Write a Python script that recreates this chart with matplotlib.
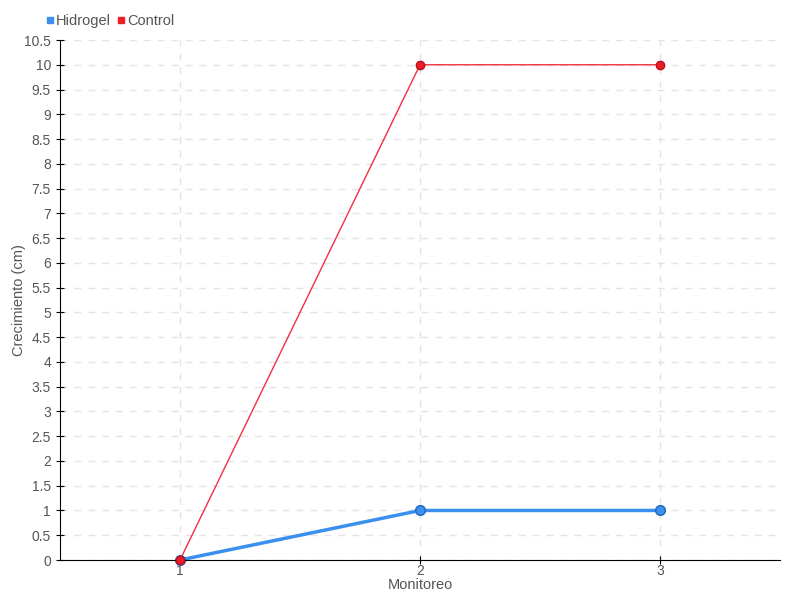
import matplotlib
matplotlib.use("Agg")
import matplotlib.pyplot as plt
from matplotlib.lines import Line2D
import numpy as np

plt.rcParams['font.family'] = ['Liberation Sans', 'DejaVu Sans']

monitoreo = [1, 2, 3]
hidrogel = [0, 1, 1]
control = [0, 10, 10]
y_ticks = np.arange(0, 10.51, 0.5)

fig = plt.figure(figsize=(8, 6), dpi=100)
ax = fig.add_axes([60 / 800, 40 / 600, 720 / 800, 520 / 600])

ax.plot(monitoreo, hidrogel, color="#3b8fee", lw=2.5, marker="o", ms=7,
        markerfacecolor="#3b8fee", markeredgecolor="#2266bb", zorder=2,
        clip_on=False, label="Hidrogel")
ax.plot(monitoreo, control, color="#f03040", lw=1, marker="o", ms=6,
        markerfacecolor="#ee1c25", markeredgecolor="#bb1122", zorder=3,
        clip_on=False, label="Control")

ax.set_xlim(0.5, 3.5)
ax.set_ylim(0, 10.5)
ax.set_xticks(monitoreo)
ax.set_yticks(y_ticks)
ax.set_yticklabels(["%g" % v for v in y_ticks])
ax.grid(True, color="#e4e4e4", linestyle=(0, (5, 5)), lw=1)
ax.set_axisbelow(True)
for s in ["top", "right"]:
    ax.spines[s].set_visible(False)
ax.tick_params(axis="both", direction="inout", length=6, colors="black",
               labelcolor="#555555", labelsize=10)
ax.tick_params(axis="x", pad=0)
ax.set_xlabel("Monitoreo", color="#555555", fontsize=10.5, labelpad=0)
ax.set_ylabel("Crecimiento (cm)", color="#555555", fontsize=10.5)
ax.yaxis.set_label_coords(-34 / 720, 0.5)

handles = [Line2D([], [], ls="", marker="s", ms=5, color="#3b8fee"),
           Line2D([], [], ls="", marker="s", ms=5, color="#ee1c25")]
fig.legend(handles, ["Hidrogel", "Control"], loc="upper left",
           bbox_to_anchor=(46 / 800, 1 - 14 / 600), ncol=2, frameon=False,
           fontsize=10.5, handlelength=0.5, handletextpad=0.2, columnspacing=0.4,
           labelcolor="#555555", borderaxespad=0, borderpad=0)

fig.savefig("out.png", dpi=100)
